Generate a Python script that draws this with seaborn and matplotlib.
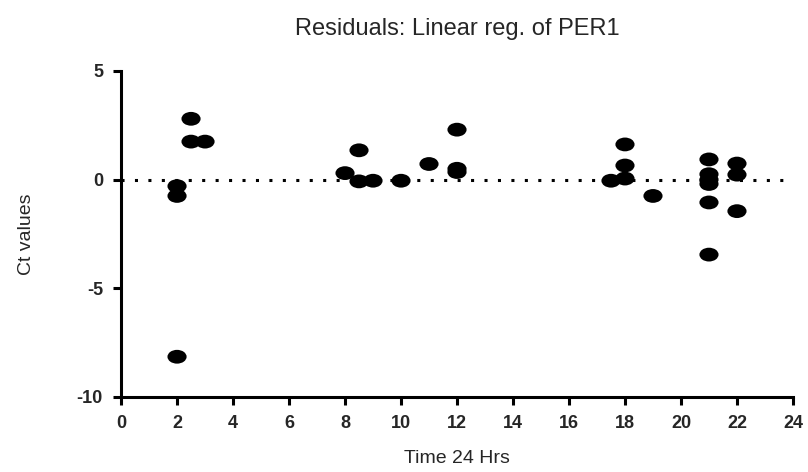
import numpy as np
import pandas as pd
import matplotlib
matplotlib.use('Agg')
import matplotlib.pyplot as plt
import seaborn as sns
from matplotlib.path import Path
from matplotlib.transforms import Affine2D

# Residual values
time_hrs = [2, 2, 2, 2.5, 2.5, 3,
            8, 8.5, 8.5, 9, 10, 11, 12, 12, 12,
            17.5, 18, 18, 18, 19,
            21, 21, 21, 21, 21, 21,
            22, 22, 22]
residuals = [-0.3, -0.75, -8.15, 2.8, 1.75, 1.75,
             0.3, 1.35, -0.08, -0.05, -0.05, 0.72, 2.3, 0.35, 0.5,
             -0.05, 1.62, 0.65, 0.05, -0.75,
             0.93, 0.25, 0.0, -0.2, -1.05, -3.45,
             0.74, 0.23, -1.45]
x_ticks = list(range(0, 25, 2))
y_ticks = [-10, -5, 0, 5]

df = pd.DataFrame({'time': time_hrs, 'resid': residuals})

sns.set_style('ticks')
plt.rcParams['font.family'] = ['Liberation Sans', 'DejaVu Sans']
plt.rcParams['axes.unicode_minus'] = False

fig = plt.figure(figsize=(8.08, 4.72), dpi=100)
ax = fig.add_axes([0.1498, 0.159, 0.8316, 0.6906])

# elliptical marker like the GraphPad symbol
ellipse = Affine2D().scale(1.0, 0.72).transform_path(Path.unit_circle())

ax.axhline(0, color='black', linestyle=(0, (1, 3.4)), linewidth=2.2, zorder=1)
sns.scatterplot(data=df, x='time', y='resid', ax=ax, marker=ellipse, s=190,
                color='black', edgecolor='none', linewidth=0, zorder=3)

ax.set_xlim(0, 24)
ax.set_ylim(-10, 5)
ax.set_xticks(x_ticks)
ax.set_yticks(y_ticks)
for lbl in ax.get_xticklabels() + ax.get_yticklabels():
    lbl.set_fontweight('bold')
    lbl.set_fontsize(13)
ax.tick_params(width=2.2, length=6, pad=7, color='black')

for side in ['top', 'right']:
    ax.spines[side].set_visible(False)
for side in ['left', 'bottom']:
    ax.spines[side].set_linewidth(2.2)
    ax.spines[side].set_color('black')

ax.set_title('Residuals: Linear reg. of PER1', fontsize=17, pad=26)
ax.set_xlabel('Time 24 Hrs', fontsize=14, labelpad=13)
ax.set_ylabel('Ct values', fontsize=14, labelpad=30)

fig.savefig('out.png', dpi=100)
